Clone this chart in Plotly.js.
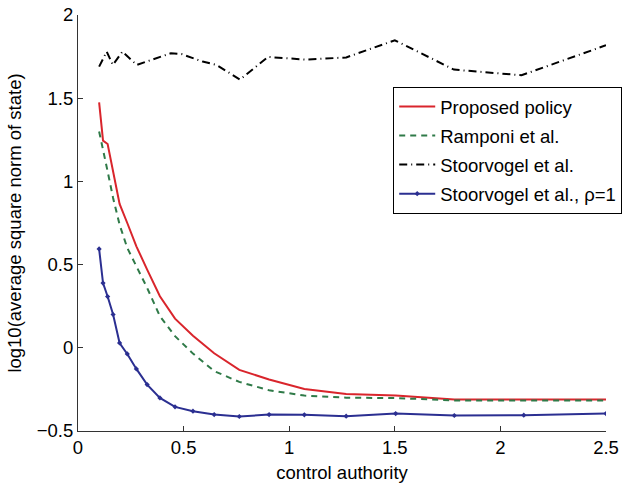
<!DOCTYPE html>
<html>
<head>
<meta charset="utf-8">
<script src="https://cdn.plot.ly/plotly-3.0.1.min.js"></script>
<style>html,body{margin:0;padding:0;background:#fff;}#chart{width:624px;height:492px;}</style>
</head>
<body>
<div id="chart"></div>
<script>
// control authority grid
const xGrid = [0.1, 0.1185, 0.1403, 0.1662, 0.1969, 0.2333, 0.2764, 0.3274, 0.3878, 0.4594, 0.5443, 0.6447, 0.7638, 0.9048, 1.0718, 1.2697, 1.5041, 1.7818, 2.1107, 2.5];
const proposed = [1.475, 1.245, 1.225, 1.05, 0.865, 0.75, 0.61, 0.47, 0.31, 0.175, 0.072, -0.033, -0.133, -0.19, -0.247, -0.278, -0.287, -0.31, -0.311, -0.311];
const ramponi = [1.30, 1.18, 1.06, 0.90, 0.74, 0.60, 0.49, 0.36, 0.19, 0.07, -0.035, -0.14, -0.205, -0.255, -0.287, -0.30, -0.302, -0.316, -0.316, -0.316];
const stoorX = [0.1, 0.136, 0.165, 0.21, 0.278, 0.44, 0.49, 0.59, 0.656, 0.767, 0.9, 1.08, 1.27, 1.5, 1.78, 2.1, 2.5];
const stoor = [1.69, 1.78, 1.70, 1.78, 1.70, 1.77, 1.765, 1.72, 1.70, 1.612, 1.748, 1.732, 1.745, 1.848, 1.672, 1.638, 1.818];
const stoorRho = [0.594, 0.389, 0.308, 0.2, 0.029, -0.037, -0.127, -0.221, -0.301, -0.355, -0.381, -0.401, -0.413, -0.401, -0.403, -0.411, -0.395, -0.407, -0.405, -0.395];
const names = ['Proposed policy', 'Ramponi et al.', 'Stoorvogel et al.', 'Stoorvogel et al., \u03c1=1'];
const xTicks = [0, 0.5, 1, 1.5, 2, 2.5];
const yTicks = [-0.5, 0, 0.5, 1, 1.5, 2];

const traces = [
  {x: xGrid, y: proposed, name: names[0], mode: 'lines', legendgroup: 'a',
   line: {color: '#d9252c', width: 2}},
  {x: xGrid, y: ramponi, name: names[1], mode: 'lines', legendgroup: 'b',
   line: {color: '#2f7a48', width: 2, dash: '6px,5px'}},
  {x: stoorX, y: stoor, name: names[2], mode: 'lines', legendgroup: 'c',
   line: {color: '#000000', width: 2, dash: '8px,4px,1px,4px'}},
  {x: xGrid, y: stoorRho, name: names[3], mode: 'lines+markers', legendgroup: 'd',
   line: {color: '#2b2f91', width: 2},
   marker: {symbol: 'diamond', size: 4, color: '#2b2f91'}}
];

const FS = 18.5;
const font = {family: 'Liberation Sans, Arial, sans-serif', size: FS, color: '#000'};
const layout = {
  width: 624, height: 492,
  margin: {l: 78, r: 18, t: 15, b: 61, autoexpand: false},
  paper_bgcolor: '#fff', plot_bgcolor: '#fff',
  font: font,
  showlegend: true,
  legend: {x: 0.597, y: 0.827, xanchor: 'left', yanchor: 'top',
    bordercolor: '#000', borderwidth: 1, bgcolor: '#fff',
    font: {family: font.family, size: FS, color: '#000'},
    traceorder: 'grouped', tracegroupgap: 2, itemwidth: 36},
  xaxis: {range: [0, 2.5], tickvals: xTicks, ticktext: xTicks.map(String),
    ticks: 'inside', ticklen: 5, tickcolor: '#333', showline: true, linecolor: '#333', linewidth: 1,
    showgrid: false, zeroline: false, mirror: false,
    tickfont: {size: FS},
    title: {text: 'control authority', font: {size: FS}, standoff: 8}},
  yaxis: {range: [-0.5, 2], tickvals: yTicks, ticktext: yTicks.map(v => v < 0 ? '\u2212' + Math.abs(v) : String(v)),
    ticks: 'inside', ticklen: 5, tickcolor: '#333', showline: true, linecolor: '#333', linewidth: 1,
    showgrid: false, zeroline: false, mirror: false,
    tickfont: {size: FS},
    title: {text: 'log10(average square norm of state)', font: {size: FS}, standoff: 10}}
};
Plotly.newPlot('chart', traces, layout, {displayModeBar: false, staticPlot: true});
</script>
</body>
</html>
